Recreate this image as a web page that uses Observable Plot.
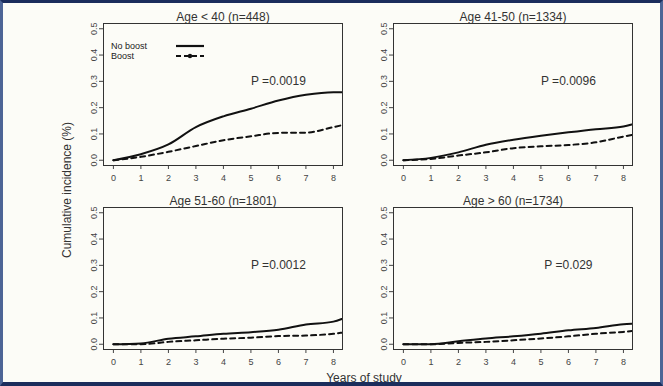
<!DOCTYPE html>
<html>
<head>
<meta charset="utf-8">
<script src="https://cdn.jsdelivr.net/npm/d3@7"></script>
<script src="https://cdn.jsdelivr.net/npm/@observablehq/plot@0.6"></script>
<style>
  html, body { margin: 0; padding: 0; background: #ffffff; }
  #chart { position: relative; width: 663px; height: 386px; background: #fcfcf7; overflow: hidden;
           font-family: "Liberation Sans", Arial, Helvetica, sans-serif; color: #333; }
  #chart .panel { position: absolute; }
  #border { position: absolute; left: 0; top: 0; width: 663px; height: 386px; box-sizing: border-box;
            border-top: 3px solid #1b2d5c; border-bottom: 4px solid #1b2d5c;
            border-left: 3px solid #4d6596; border-right: 3px solid #4d6596; pointer-events: none; }
  .ylab { position: absolute; left: 67px; top: 190px; transform: translate(-50%, -50%) rotate(-90deg);
          font-size: 12px; white-space: nowrap; color: #333; }
  .xlab { position: absolute; left: 364px; top: 378px; transform: translate(-50%, -50%);
          font-size: 12px; white-space: nowrap; color: #333; }
  .legend { position: absolute; left: 111px; top: 41px; font-size: 9px; color: #222; line-height: 10px; }
  .legend div { position: relative; height: 10px; }
  .legend svg { position: absolute; left: 64px; top: 0; }
</style>
</head>
<body>
<div id="chart">
  <div class="ylab">Cumulative incidence (%)</div>
  <div class="xlab">Years of study</div>
  <div id="border"></div>
</div>
<script>
// ---- data ----
const years = [0, 1, 2, 3, 4, 5, 6, 7, 8, 8.3];
const xTicks = [0, 1, 2, 3, 4, 5, 6, 7, 8];
const yTicks = [0, 0.1, 0.2, 0.3, 0.4, 0.5];
const seriesNames = ["No boost", "Boost"];
const panelTitles = ["Age < 40 (n=448)", "Age 41-50 (n=1334)", "Age 51-60 (n=1801)", "Age > 60 (n=1734)"];
const pValues = ["P =0.0019", "P =0.0096", "P =0.0012", "P =0.029"];

const noBoostUnder40 = [0, 0.023, 0.06, 0.126, 0.167, 0.196, 0.227, 0.249, 0.259, 0.259];
const boostUnder40   = [0, 0.013, 0.032, 0.054, 0.076, 0.091, 0.104, 0.105, 0.126, 0.133];
const noBoost41to50  = [0, 0.009, 0.03, 0.059, 0.078, 0.093, 0.106, 0.118, 0.128, 0.136];
const boost41to50    = [0, 0.005, 0.018, 0.03, 0.046, 0.053, 0.058, 0.068, 0.09, 0.096];
const noBoost51to60  = [0, 0.003, 0.021, 0.03, 0.04, 0.046, 0.055, 0.075, 0.086, 0.096];
const boost51to60    = [0, 0, 0.009, 0.015, 0.021, 0.025, 0.031, 0.033, 0.04, 0.044];
const noBoostOver60  = [0, 0, 0.011, 0.022, 0.03, 0.04, 0.053, 0.062, 0.076, 0.078];
const boostOver60    = [0, 0, 0.005, 0.009, 0.015, 0.022, 0.03, 0.04, 0.047, 0.05];

// ---- layout ----
const xDomain = [-0.36, 8.33];
const yDomain = [-0.02, 0.52];
const pAnchor = {x: 6, y: 0.3};
const frameW = 239, frameH = 142;
const mL = 40, mR = 8, mT = 23, mB = 28;
const panelFrames = [[103, 23], [393, 23], [103, 207], [393, 207]];
const panelSeries = [
  [noBoostUnder40, boostUnder40],
  [noBoost41to50, boost41to50],
  [noBoost51to60, boost51to60],
  [noBoostOver60, boostOver60]
];
const font = '"Liberation Sans", Arial, Helvetica, sans-serif';

const chart = document.getElementById("chart");
const border = document.getElementById("border");

panelSeries.forEach((pair, i) => {
  const solid = years.map((x, j) => ({year: x, value: pair[0][j], group: seriesNames[0]}));
  const dashed = years.map((x, j) => ({year: x, value: pair[1][j], group: seriesNames[1]}));
  const svg = Plot.plot({
    width: mL + frameW + mR,
    height: mT + frameH + mB,
    marginLeft: mL, marginRight: mR, marginTop: mT, marginBottom: mB,
    style: {background: "transparent", fontFamily: font, color: "#333", overflow: "visible"},
    x: {domain: xDomain},
    y: {domain: yDomain},
    marks: [
      Plot.axisX({ticks: xTicks, tickSize: 4, tickPadding: 5, fontSize: 9, label: null, stroke: "#444", fill: "#444"}),
      Plot.axisY({ticks: yTicks, tickFormat: d3.format(".1f"), tickSize: 4, tickPadding: 3, tickRotate: -90,
                  fontSize: 9, label: null, stroke: "#444", fill: "#444"}),
      Plot.line(dashed, {x: "year", y: "value", stroke: "#111", strokeWidth: 2, strokeDasharray: "5,4", curve: "monotone-x"}),
      Plot.line(solid, {x: "year", y: "value", stroke: "#111", strokeWidth: 2, curve: "monotone-x"}),
      Plot.frame({stroke: "#333", strokeWidth: 1}),
      Plot.text([panelTitles[i]], {frameAnchor: "top", dy: -11, fontSize: 12, fill: "#333"}),
      Plot.text([pValues[i]], {x: () => pAnchor.x, y: () => pAnchor.y, fontSize: 12, fill: "#333"})
    ]
  });
  svg.classList.add("panel");
  svg.style.left = (panelFrames[i][0] - mL) + "px";
  svg.style.top = (panelFrames[i][1] - mT) + "px";
  chart.insertBefore(svg, border);
});

// legend (panel 1)
const legend = document.createElement("div");
legend.className = "legend";
legend.innerHTML =
  '<div>' + seriesNames[0] + '<svg width="30" height="10"><line x1="1" x2="29" y1="5" y2="5" stroke="#111" stroke-width="2.2"/></svg></div>' +
  '<div>' + seriesNames[1] + '<svg width="30" height="10"><line x1="1" x2="29" y1="5" y2="5" stroke="#111" stroke-width="2.2" stroke-dasharray="5,3"/><circle cx="15" cy="5" r="2.2" fill="#111"/></svg></div>';
chart.insertBefore(legend, border);
</script>
</body>
</html>
